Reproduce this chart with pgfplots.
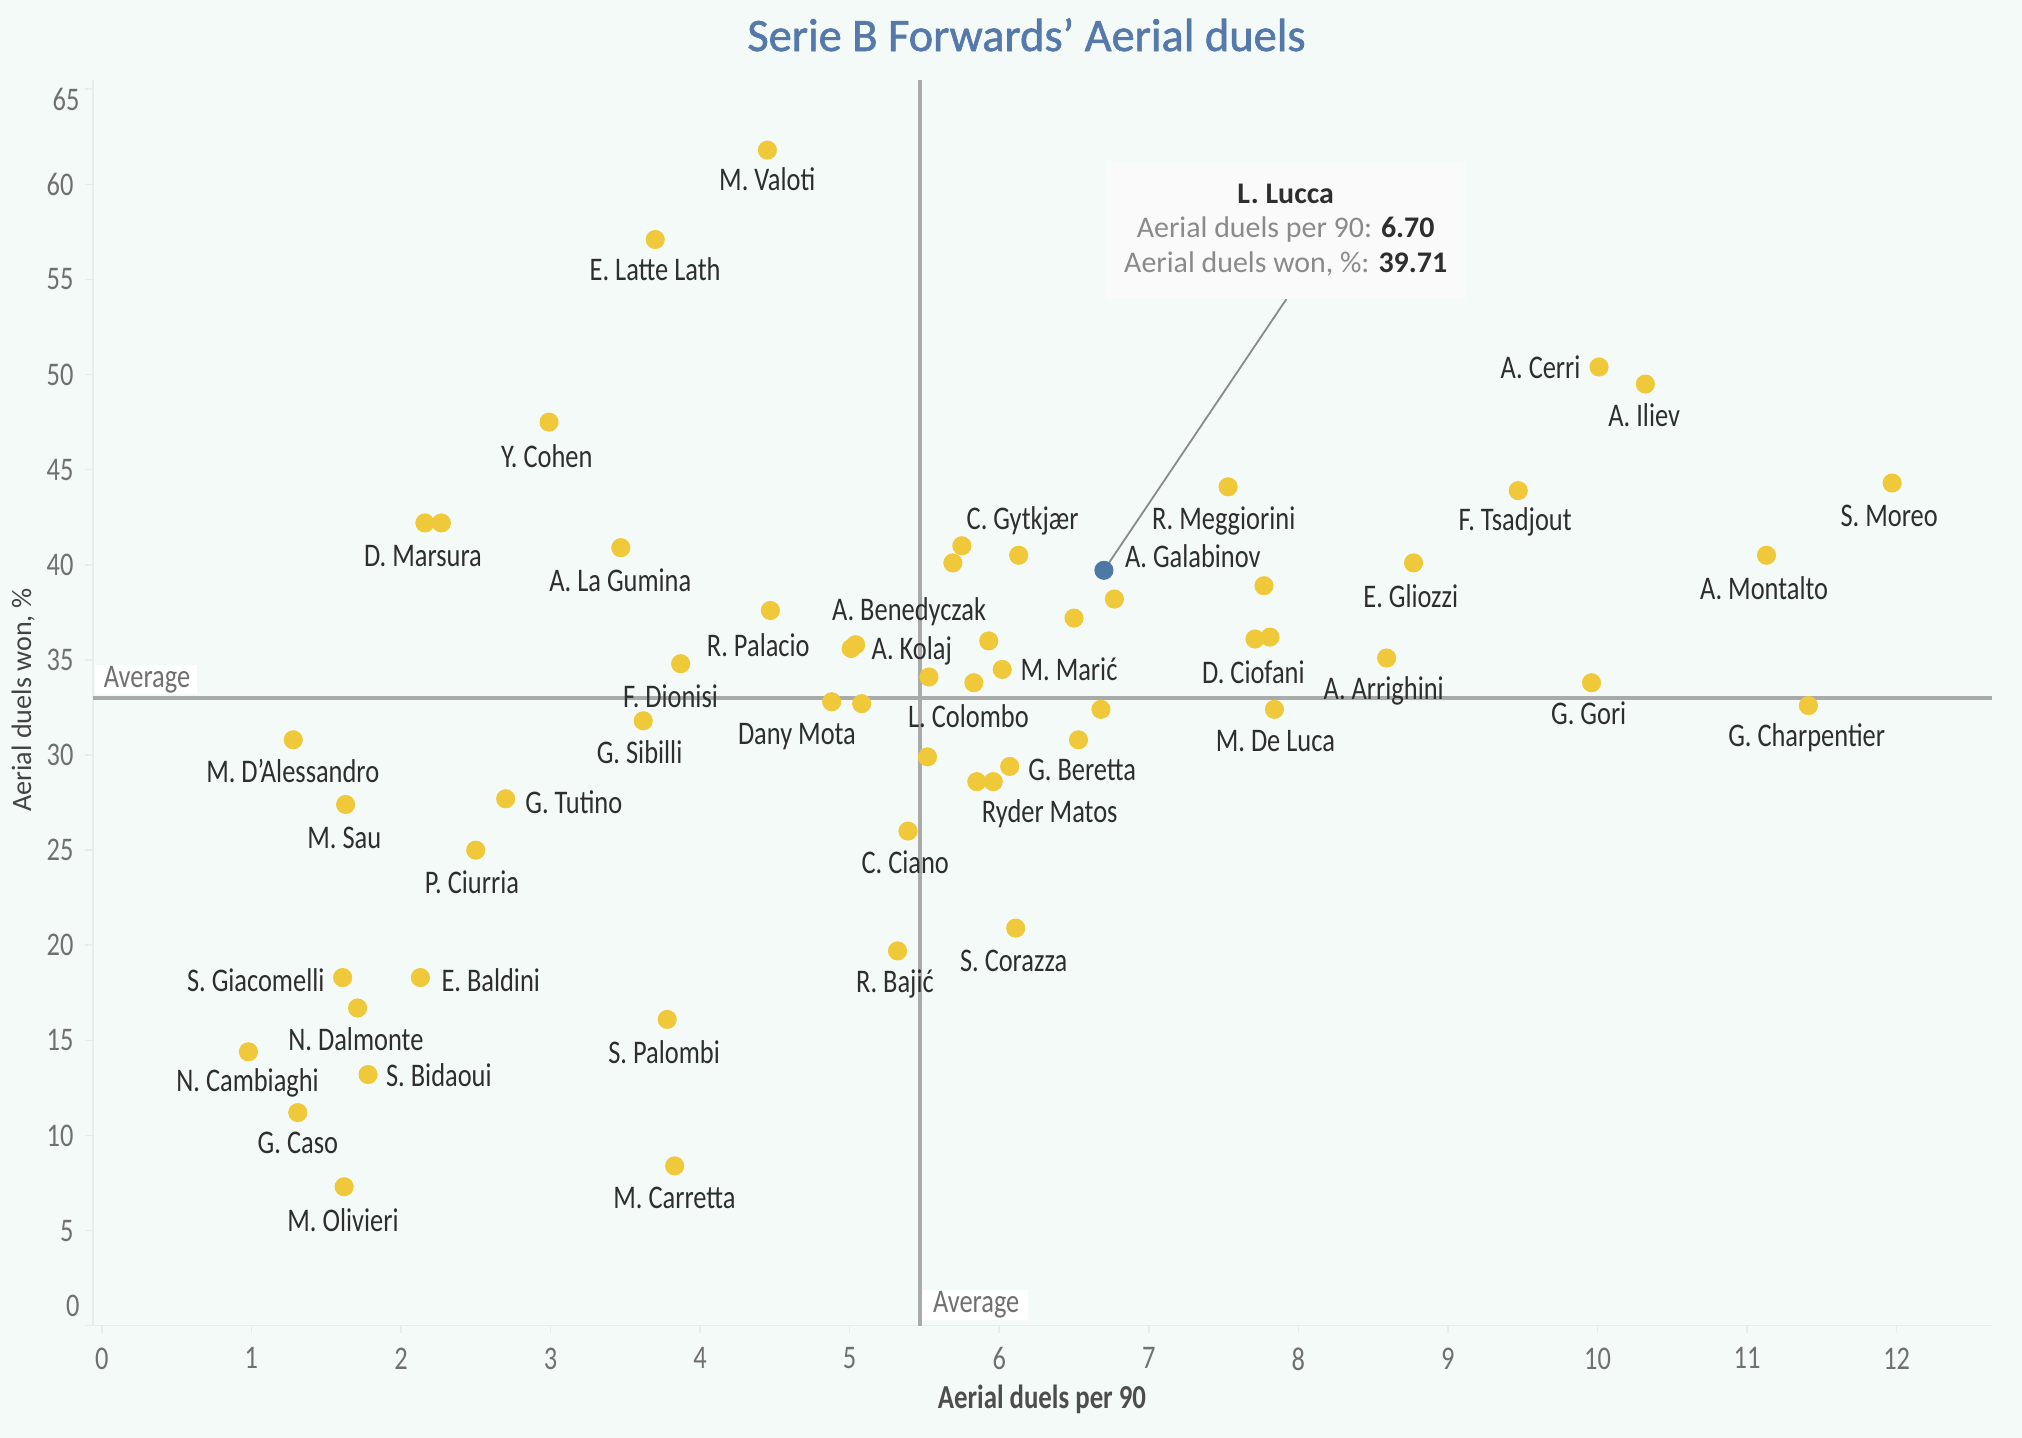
\documentclass[border=0pt]{standalone}
\usepackage{fontspec}
\setmainfont[FakeStretch=0.8]{Carlito}
\newfontfamily\titlefont[FakeBold=1.3]{Carlito}
\newfontfamily\widefont{Carlito}
\usepackage{pgfplots}
\pgfplotsset{compat=1.18}
\definecolor{bg}{HTML}{F3FAF8}
\definecolor{dot}{HTML}{EFC93A}
\definecolor{lucca}{HTML}{4E79A7}
\definecolor{titleblue}{HTML}{5479AA}
\definecolor{avg}{HTML}{A9ABAA}
\definecolor{tickc}{HTML}{707070}
\definecolor{labc}{HTML}{2E2E2E}
\definecolor{ttgray}{HTML}{8A8A8A}
\definecolor{axc}{HTML}{E8ECEA}
\newcommand{\lab}{\fontsize{12.8}{14}\selectfont}
\begin{document}
\begin{tikzpicture}
\fill[bg] (0,0) rectangle (784pt,557.5pt);
\useasboundingbox (0,0) rectangle (784pt,557.5pt);
\begin{axis}[at={(36pt,43.5pt)}, anchor=south west, scale only axis,
  width=736.5pt, height=483pt,
  xmin=-0.06, xmax=12.64, ymin=0, ymax=65.49,
  xtick={0,...,12}, ytick={0,5,...,65},
  yticklabels={,5,10,15,20,25,30,35,40,45,50,55,60,},
  /pgf/number format/assume math mode=true,
  axis x line*=bottom, axis y line*=left,
  axis line style={draw=axc, line width=0.6pt, -},
  tick align=outside, major tick length=3pt,
  tick style={draw=axc, line width=0.6pt},
  tick label style={font=\lab, text=tickc},
  xticklabel style={anchor=north, yshift=-2pt},
  yticklabel style={anchor=east, xshift=-1pt},
  clip=false]
\addplot[avg, line width=1.3pt] coordinates {(5.47,0) (5.47,65.49)};
\addplot[avg, line width=1.3pt] coordinates {(-0.06,33.0) (12.64,33.0)};
\addplot[only marks, color=dot, mark=*, mark size=3.5pt, mark options={fill=dot, draw=dot}] coordinates {
(4.45,61.8) (3.70,57.1) (2.99,47.5) (2.16,42.2) (2.27,42.2) (3.47,40.9)
(4.47,37.6) (3.87,34.8) (5.01,35.6) (5.04,35.8) (3.62,31.8) (4.88,32.8)
(5.08,32.7) (1.28,30.8) (1.63,27.4) (2.70,27.7) (2.50,25.0) (1.61,18.3)
(2.13,18.3) (1.71,16.7) (0.98,14.4) (1.78,13.2) (1.31,11.2) (1.62,7.3)
(3.78,16.1) (3.83,8.4) (5.32,19.7) (5.39,26.0) (6.11,20.9) (5.52,29.9)
(5.53,34.1) (5.83,33.8) (5.93,36.0) (6.02,34.5) (5.75,41.0) (5.69,40.1)
(6.13,40.5) (6.77,38.2) (6.50,37.2) (6.68,32.4) (6.53,30.8) (6.07,29.4)
(5.85,28.6) (5.96,28.6) (7.53,44.1) (7.77,38.9) (7.71,36.1) (7.81,36.2)
(7.84,32.4) (8.77,40.1) (8.59,35.1) (9.47,43.9) (10.01,50.4) (10.32,49.5)
(9.96,33.8) (11.13,40.5) (11.97,44.3) (11.41,32.6)
};
\addplot[draw=ttgray, line width=0.7pt] coordinates {(6.70,39.71) (7.92,53.97)};
\addplot[only marks, color=lucca, mark=*, mark size=3.5pt, mark options={fill=lucca, draw=lucca}] coordinates {(6.70,39.71)};
\end{axis}
\begin{scope}[x=0.5pt,y=-0.5pt,yshift=557.5pt]
% tick labels at the ends
\node[font=\lab, text=tickc, anchor=east, inner sep=0pt] at (62,1013) {0};
\node[font=\lab, text=tickc, anchor=east, inner sep=0pt] at (62,77) {65};
% title and axis titles
\node[font=\titlefont\fontsize{18}{20}\selectfont, text=titleblue] at (796,27) {Serie B Forwards’ Aerial duels};
\node[font=\bfseries\fontsize{13}{15}\selectfont, text=labc!85] at (808,1085) {Aerial duels per 90};
\node[font=\widefont\fontsize{10.9}{12}\selectfont, text=labc!90, rotate=90] at (18,543) {Aerial duels won, \%};
% average labels
\fill[white] (74,516) rectangle (153,538);
\node[font=\lab, text=tickc] at (114,527) {Average};
\fill[white] (715,1000) rectangle (797,1024);
\node[font=\lab, text=tickc] at (757,1012) {Average};
% tooltip
\fill[black!2] (858,125) rectangle (1137,232);
\node[font=\widefont\fontsize{11.6}{13.4}\selectfont, align=center, inner sep=0pt] at (997,178.5)
 {\textcolor{labc}{\bfseries L. Lucca}\\
  \textcolor{ttgray}{Aerial duels per 90:} \textcolor{labc}{\bfseries 6.70}\\
  \textcolor{ttgray}{Aerial duels won, \%:} \textcolor{labc}{\bfseries 39.71}};
\begin{scope}[every node/.style={font=\lab, text=labc, inner sep=0pt}]
\node at (595,139) {M. Valoti};
\node at (508,209) {E. Latte Lath};
\node at (424,354) {Y. Cohen};
\node at (328,431) {D. Marsura};
\node at (481,450) {A. La Gumina};
\node at (793,404) {C. Gytkjær};
\node at (949,404) {R. Meggiorini};
\node[anchor=west] at (872,431) {A. Galabinov};
\node at (705,474) {A. Benedyczak};
\node at (588,500) {R. Palacio};
\node at (707,505) {A. Kolaj};
\node at (520,540) {F. Dionisi};
\node[anchor=west] at (791,519) {M. Marić};
\node at (751,555) {L. Colombo};
\node at (618,571) {Dany Mota};
\node at (496,583) {G. Sibilli};
\node at (972,521) {D. Ciofani};
\node at (1073,536) {A. Arrighini};
\node at (989,575) {M. De Luca};
\node[anchor=west] at (797,597) {G. Beretta};
\node at (814,631) {Ryder Matos};
\node at (702,669) {C. Ciano};
\node at (786,745) {S. Corazza};
\node at (694,763) {R. Bajić};
\node at (227,598) {M. D’Alessandro};
\node at (267,650) {M. Sau};
\node[anchor=west] at (407,622) {G. Tutino};
\node at (366,684) {P. Ciurria};
\node[anchor=east] at (252,760) {S. Giacomelli};
\node[anchor=west] at (342,760) {E. Baldini};
\node at (276,806) {N. Dalmonte};
\node at (192,840) {N. Cambiaghi};
\node[anchor=west] at (299,834) {S. Bidaoui};
\node at (231,886) {G. Caso};
\node at (266,946) {M. Olivieri};
\node at (515,816) {S. Palombi};
\node at (523,929) {M. Carretta};
\node at (1094,462) {E. Gliozzi};
\node at (1175,405) {F. Tsadjout};
\node[anchor=east] at (1226,285) {A. Cerri};
\node at (1275,322) {A. Iliev};
\node at (1232,553) {G. Gori};
\node at (1401,572) {G. Charpentier};
\node at (1368,456) {A. Montalto};
\node at (1465,400) {S. Moreo};
\end{scope}
\end{scope}
\end{tikzpicture}
\end{document}
